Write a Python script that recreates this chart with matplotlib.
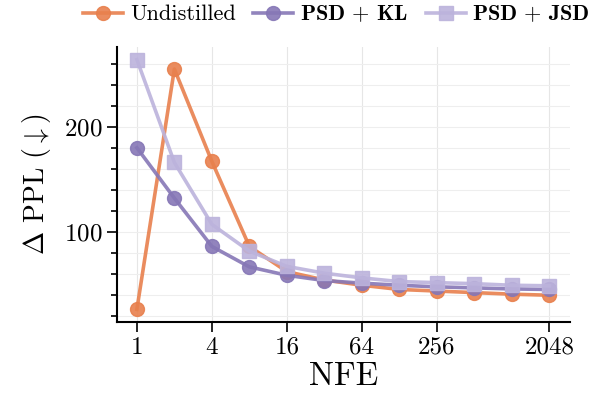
import numpy as np
import matplotlib
matplotlib.use("Agg")
import matplotlib.pyplot as plt
from matplotlib.ticker import MultipleLocator

plt.rcParams['font.family'] = 'serif'
plt.rcParams['font.serif'] = ['cmr10']
plt.rcParams['mathtext.fontset'] = 'cm'
plt.rcParams['axes.unicode_minus'] = False
plt.rcParams['axes.formatter.use_mathtext'] = True

nfe = [1, 2, 4, 8, 16, 32, 64, 128, 256, 512, 1024, 2048]
undistilled = [26, 255, 167, 86, 62, 54, 49, 45, 43.5, 42, 40.5, 39.5]
psd_kl = [180, 132, 86, 66.5, 58.5, 53.5, 51, 49, 47.5, 46.5, 45.5, 45]
psd_jsd = [264, 166, 107, 81.5, 67, 60.5, 56, 52.5, 51.5, 50.5, 49, 48.5]
xtick_vals = [1, 4, 16, 64, 256, 2048]

c_und = '#E8804D'
c_kl = '#8677B6'
c_jsd = '#BCB3DC'

fig = plt.figure(figsize=(6, 4), dpi=100)
ax = fig.add_axes([0.195, 0.195, 0.755, 0.6875])

ax.plot(nfe, undistilled, '-o', color=c_und, lw=2.6, ms=10, alpha=0.9,
        label='Undistilled', zorder=3)
ax.plot(nfe, psd_kl, '-o', color=c_kl, lw=2.6, ms=10, alpha=0.9,
        label=r'$\mathbf{PSD\,+\,KL}$', zorder=3)
ax.plot(nfe, psd_jsd, '-s', color=c_jsd, lw=2.6, ms=10, alpha=0.9,
        label=r'$\mathbf{PSD\,+\,JSD}$', zorder=3)

ax.set_xscale('log', base=2)
ax.set_xlim(2 ** -0.53, 2 ** 11.55)
ax.set_xticks(xtick_vals, labels=[str(v) for v in xtick_vals])
ax.minorticks_off()
ax.set_ylim(14, 276)
ax.yaxis.set_major_locator(MultipleLocator(100))
ax.yaxis.set_minor_locator(MultipleLocator(20))

ax.tick_params(axis='both', which='major', labelsize=18, length=7, width=1.2)
ax.tick_params(axis='y', which='minor', length=4.5, width=1.2)
ax.grid(True, which='major', axis='x', color='#e6e6e6', lw=0.8, zorder=0)
ax.grid(True, which='both', axis='y', color='#eeeeee', lw=0.8, zorder=0)

for s in ['top', 'right']:
    ax.spines[s].set_visible(False)
for s in ['left', 'bottom']:
    ax.spines[s].set_linewidth(1.5)

ax.set_xlabel('NFE', fontsize=24, labelpad=2)
ax.set_ylabel(r'$\Delta$ PPL $(\downarrow)$', fontsize=20, labelpad=8)

ax.legend(loc='lower center', bbox_to_anchor=(0.485, 1.05), ncol=3,
          frameon=False, fontsize=16, handlelength=1.8, handletextpad=0.3,
          columnspacing=0.8, borderaxespad=0)

fig.savefig('out.png', dpi=100)
